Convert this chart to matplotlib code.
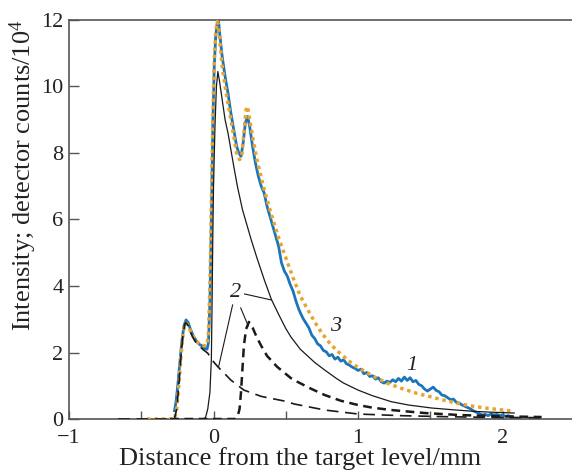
import numpy as np
import matplotlib
matplotlib.use("Agg")
import matplotlib.pyplot as plt

plt.rcParams['font.family'] = ['Liberation Serif', 'DejaVu Serif']
plt.rcParams['mathtext.fontset'] = 'custom'
plt.rcParams['mathtext.rm'] = 'Liberation Serif'
plt.rcParams['mathtext.it'] = 'Liberation Serif:italic'

# curve 1: experimental profile (blue, noisy)
exp_x = [-0.27, -0.26, -0.25, -0.235, -0.22, -0.205, -0.19, -0.175, -0.16, -0.14,
         -0.12, -0.10, -0.08, -0.06, -0.045, -0.035, -0.025, -0.015, -0.005, 0.005,
         0.015, 0.025, 0.035, 0.045, 0.06, 0.08, 0.10, 0.12, 0.14, 0.16,
         0.175, 0.19, 0.205, 0.22, 0.235, 0.25, 0.27, 0.29, 0.31, 0.33,
         0.35, 0.37, 0.39, 0.41, 0.43, 0.45, 0.47, 0.49, 0.51, 0.53,
         0.55, 0.57, 0.59,
         0.60, 0.62, 0.64, 0.66, 0.68, 0.70, 0.72, 0.74, 0.76, 0.78,
         0.80, 0.82, 0.84, 0.86, 0.88, 0.90, 0.92, 0.94, 0.96, 0.98,
         1.00, 1.02, 1.04, 1.06, 1.08, 1.10, 1.12, 1.14, 1.16, 1.18,
         1.20, 1.22, 1.24, 1.26, 1.28, 1.30, 1.32, 1.34, 1.36, 1.38,
         1.40, 1.42, 1.44, 1.46, 1.48, 1.50, 1.52, 1.54, 1.56, 1.58,
         1.60, 1.62, 1.64, 1.66, 1.68, 1.70, 1.72, 1.74, 1.76, 1.78,
         1.80, 1.82, 1.84, 1.86, 1.88, 1.90, 1.92, 1.94, 1.96, 1.98,
         2.00, 2.02, 2.04, 2.06]
exp_y = [0.25, 0.5, 0.9, 1.6, 2.3, 2.8, 2.98, 2.9, 2.7, 2.5,
         2.35, 2.25, 2.2, 2.12, 2.1, 2.3, 3.5, 6.0, 8.8, 10.6,
         11.5, 11.9, 11.95, 11.5, 10.9, 10.3, 9.8, 9.2, 8.7, 8.2,
         8.0, 7.9, 8.3, 8.9, 9.1, 8.8, 8.2, 7.7, 7.3, 7.0,
         6.8, 6.4, 6.1, 5.8, 5.5, 5.2, 4.7, 4.45, 4.3, 4.05,
         3.85, 3.55, 3.3,
         3.2, 3.02, 2.88, 2.74, 2.52, 2.42, 2.26, 2.2, 2.06, 2.02,
         1.9, 1.94, 1.8, 1.86, 1.74, 1.78, 1.66, 1.62, 1.56, 1.52,
         1.46, 1.5, 1.36, 1.4, 1.28, 1.3, 1.2, 1.24, 1.12, 1.08,
         1.14, 1.1, 1.18, 1.12, 1.22, 1.14, 1.26, 1.16, 1.24, 1.12,
         1.16, 1.04, 1.0, 0.9, 0.84, 0.9, 0.96, 0.86, 0.82, 0.72,
         0.7, 0.64, 0.58, 0.6, 0.5, 0.48, 0.42, 0.38, 0.34, 0.3,
         0.24, 0.2, 0.16, 0.12, 0.14, 0.1, 0.16, 0.12, 0.14, 0.1,
         0.12, 0.08, 0.1, 0.06]

# curve 3: total fit (orange dotted)
fit_x = [-0.46, -0.27, -0.255, -0.24, -0.225, -0.21, -0.195, -0.18, -0.16, -0.14,
         -0.12, -0.10, -0.08, -0.06, -0.045, -0.035, -0.025, -0.015, -0.005, 0.005,
         0.015, 0.025, 0.035, 0.045, 0.06, 0.08, 0.10, 0.12, 0.14, 0.16,
         0.18, 0.195, 0.21, 0.225, 0.235, 0.25, 0.27, 0.30, 0.35, 0.40,
         0.45, 0.50, 0.55, 0.60, 0.65, 0.70, 0.75, 0.80, 0.85, 0.90,
         0.95, 1.00, 1.10, 1.20, 1.30, 1.40, 1.50, 1.60, 1.70, 1.80,
         1.90, 2.00, 2.07]
fit_y = [0.0, 0.0, 0.3, 1.0, 1.9, 2.6, 2.88, 2.85, 2.65, 2.48,
         2.35, 2.27, 2.22, 2.2, 2.22, 2.6, 4.0, 6.5, 9.0, 10.8,
         11.6, 11.95, 11.85, 11.3, 10.6, 10.0, 9.5, 9.0, 8.5, 8.0,
         7.8, 7.9, 8.6, 9.3, 9.4, 9.0, 8.5, 7.8, 6.9, 6.15,
         5.45, 4.85, 4.25, 3.7, 3.3, 2.92, 2.58, 2.3, 2.07, 1.88,
         1.7, 1.55, 1.3, 1.08, 0.92, 0.78, 0.67, 0.56, 0.46, 0.38,
         0.32, 0.27, 0.24]

# curve 2: components (thin solid, long dashed, bold dashed)
main_x = [-0.07, -0.055, -0.04, -0.025, -0.015, -0.01, -0.005, 0.0, 0.01, 0.02,
          0.03, 0.04, 0.06, 0.08, 0.10, 0.12, 0.14, 0.165, 0.20, 0.26,
          0.30, 0.35, 0.40, 0.45, 0.50, 0.535, 0.60, 0.70, 0.77, 0.85,
          0.90, 1.00, 1.10, 1.23, 1.35, 1.51, 1.65, 1.80, 1.95, 2.08]
main_y = [0.0, 0.05, 0.3, 0.8, 1.8, 3.5, 5.5, 7.0, 8.8, 10.0,
          10.45, 10.2, 9.6, 9.0, 8.6, 8.1, 7.6, 7.0, 6.3, 5.4,
          4.85, 4.2, 3.6, 3.15, 2.72, 2.47, 2.1, 1.7, 1.47, 1.22,
          1.08, 0.87, 0.7, 0.52, 0.42, 0.33, 0.28, 0.23, 0.2, 0.18]

first_x = [-0.66, -0.27, -0.255, -0.24, -0.225, -0.21, -0.195, -0.18, -0.16, -0.13,
           -0.10, -0.07, -0.04, 0.0, 0.03, 0.08, 0.12, 0.21, 0.33, 0.49,
           0.56, 0.77, 1.0, 1.3, 1.6, 1.9, 2.27]
first_y = [0.0, 0.0, 0.3, 1.0, 1.9, 2.6, 2.9, 2.85, 2.6, 2.35,
           2.2, 2.08, 1.98, 1.72, 1.57, 1.35, 1.17, 0.87, 0.68, 0.54,
           0.45, 0.27, 0.15, 0.1, 0.07, 0.05, 0.04]

second_x = [-0.3, 0.15, 0.165, 0.18, 0.19, 0.20, 0.21, 0.225, 0.245, 0.27,
            0.30, 0.33, 0.37, 0.44, 0.535, 0.58, 0.67, 0.77, 0.88, 1.0,
            1.1, 1.23, 1.46, 1.7, 2.0, 2.27]
second_y = [0.0, 0.0, 0.05, 0.3, 0.8, 1.5, 2.2, 2.7, 2.92, 2.75,
            2.45, 2.2, 1.9, 1.57, 1.23, 1.12, 0.92, 0.72, 0.55, 0.42,
            0.34, 0.27, 0.18, 0.12, 0.08, 0.06]

fig = plt.figure(figsize=(5.72, 4.70), dpi=100)
ax = fig.add_axes([0.1206, 0.1085, 0.8794, 0.849])

ax.plot(exp_x, exp_y, color='#1b75bb', lw=2.0, zorder=3)
ax.plot(fit_x, fit_y, color='#e8a42c', lw=2.5, linestyle=(0, (1, 1.1)),
        dash_capstyle='butt', zorder=4)
ax.plot(main_x, main_y, color='#1a1a1a', lw=0.9, zorder=5)
ax.plot(first_x, first_y, color='#1a1a1a', lw=1.2, linestyle=(0, (7, 4)), zorder=5)
ax.plot(second_x, second_y, color='#1a1a1a', lw=1.8, linestyle=(0, (3.5, 2.2)), zorder=5)

# curve labels with leader lines
lab_kw = dict(fontsize=16, style='italic', ha='center', va='center', color='#222222')
ax.text(0.153, 3.8, '2', **lab_kw)
ax.text(0.847, 2.77, '3', **lab_kw)
ax.text(1.368, 1.62, '1', **lab_kw)
for (x0, y0), (x1, y1) in [((0.215, 3.76), (0.40, 3.58)),
                           ((0.132, 3.43), (0.035, 1.57)),
                           ((0.188, 3.34), (0.24, 2.8))]:
    ax.plot([x0, x1], [y0, y1], color='#1a1a1a', lw=0.8, zorder=6)

ax.set_xlim(-1, 2.48)
ax.set_ylim(0, 12)
ax.set_xticks([-1, 0, 1, 2])
ax.set_xticks([-0.5, 0.5, 1.5], minor=True)
ax.set_yticks([0, 2, 4, 6, 8, 10, 12])
ax.tick_params(axis='both', which='both', direction='in', colors='#555555',
               labelcolor='#222222', labelsize=16, width=1.0)
ax.tick_params(axis='x', which='both', length=6, pad=7)
ax.tick_params(axis='y', length=7, pad=4)

for side in ['left', 'top', 'bottom']:
    ax.spines[side].set_color('#555555')
    ax.spines[side].set_linewidth(1.2)
ax.spines['right'].set_visible(False)

fig.text(300 / 572, 1 - 459 / 470, 'Distance from the target level/mm',
         fontsize=19, color='#222222', ha='center', va='center')
fig.text(23.5 / 572, 1 - 175 / 470, 'Intensity; detector counts/10$^4$',
         fontsize=19, color='#222222', ha='center', va='center', rotation=90)

fig.savefig('out.png', dpi=100)
